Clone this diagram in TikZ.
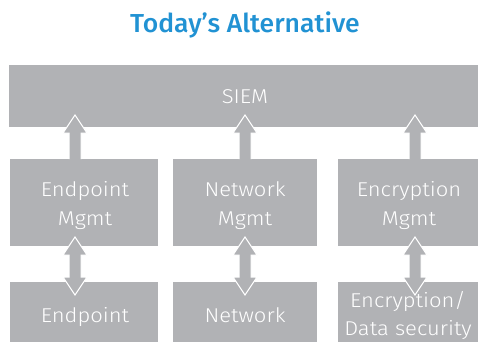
\documentclass[tikz,border=0pt]{standalone}
\usepackage{fontspec}
\setmainfont{Fira Sans}[UprightFont={* Light}, FakeStretch=1.1]
\newfontfamily\titlefont{Fira Sans}[UprightFont={* Medium}, FakeStretch=1.02]
\usetikzlibrary{calc}
\definecolor{boxgray}{RGB}{177,178,181}
\definecolor{titleblue}{RGB}{33,146,211}
\tikzset{
  x=1pt, y=-1pt,
  graybox/.style={draw=none, inner sep=0pt, align=center, text=white,
    font=\fontsize{20}{28.5}\selectfont, anchor=base},
  fatarrow/.style={fill=boxgray, draw=white, line width=1pt, line join=miter}
}
\begin{document}
\begin{tikzpicture}
\useasboundingbox (0,0) rectangle (478,342);
\node[font=\titlefont\fontsize{26}{30}\selectfont, text=titleblue, anchor=base, inner sep=0pt] (title) at (245,33) {Today’s Alternative};
% SIEM
\path[fill=boxgray] (9,65) rectangle (478,127);
\node[graybox] (siem) at (245,103.3) {SIEM};
% middle row
\path[fill=boxgray] (10,159) rectangle (158,246);
\path[fill=boxgray] (173,159) rectangle (317,246);
\path[fill=boxgray] (338,159) rectangle (478,246);
\node[graybox] (m1) at (85,225) {Endpoint\\Mgmt};
\node[graybox] (m2) at (245,225) {Network\\Mgmt};
\node[graybox] (m3) at (409,225) {Encryption\\Mgmt};
% bottom row
\path[fill=boxgray] (10,282) rectangle (158,342);
\path[fill=boxgray] (173,282) rectangle (317,342);
\path[fill=boxgray] (338,282) rectangle (478,342);
\node[graybox] (b1) at (85,322) {Endpoint};
\node[graybox] (b2) at (245,322) {Network};
\node[graybox, font=\fontsize{20}{28}\selectfont] (b3) at (408,335) {Encryption/\\Data security};
% arrow coordinates
\foreach \i/\ax in {1/75,2/245,3/415}{
  \coordinate (up\i) at (\ax,115);
  \coordinate (upb\i) at (\ax,159);
  \coordinate (dt\i) at (\ax,237);
  \coordinate (db\i) at (\ax,295);
}
% up arrows (mgmt -> SIEM)
\foreach \i in {1,2,3}{
  \draw[fatarrow] ($(upb\i)+(-6,0)$) -- ($(up\i)+(-6,18)$) -- ($(up\i)+(-12,18)$) -- (up\i)
     -- ($(up\i)+(12,18)$) -- ($(up\i)+(6,18)$) -- ($(upb\i)+(6,0)$);
  \path[fill=boxgray] ($(up\i)+(-5.3,17.5)$) rectangle ($(upb\i)+(5.3,1)$);
}
% double arrows (mgmt <-> product)
\foreach \i in {1,2,3}{
  \draw[fatarrow] (dt\i) -- ($(dt\i)+(12,18)$) -- ($(dt\i)+(6,18)$) -- ($(db\i)+(6,-18)$)
     -- ($(db\i)+(12,-18)$) -- (db\i) -- ($(db\i)+(-12,-18)$) -- ($(db\i)+(-6,-18)$)
     -- ($(dt\i)+(-6,18)$) -- ($(dt\i)+(-12,18)$) -- cycle;
}
\end{tikzpicture}
\end{document}
